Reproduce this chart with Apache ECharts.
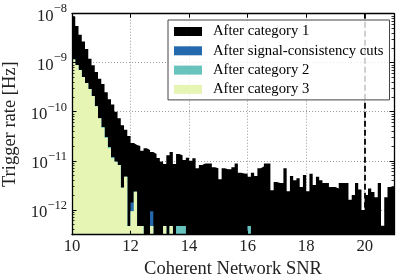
<!DOCTYPE html>
<html><head><meta charset="utf-8">
<script src="https://cdn.jsdelivr.net/npm/echarts@6/dist/echarts.min.js"></script>
<style>html,body{margin:0;padding:0;background:#fff}#c{width:415px;height:277px}</style>
</head><body><div id="c"></div>
<script>
// Histogram bins: 99 bins of width 1/9 from SNR 10 to 21
const binStart = 10, binWidth = 1 / 9, xMax = 21;
const xTicks = [10, 12, 14, 16, 18, 20];
const legendNames = ['After category 1', 'After signal-consistency cuts', 'After category 2', 'After category 3'];
const vetoThreshold = 20;

const cat1Rate = [
 8.8e-9, 5.6e-9, 3.7e-9, 2.7e-9, 1.9e-9, 1.2e-9, 8.9e-10, 6.5e-10, 4.7e-10, 3.7e-10,
 2.5e-10, 1.8e-10, 1.4e-10, 1.0e-10, 7.4e-11, 5.3e-11, 4.3e-11, 3.2e-11, 2.3e-11, 2.1e-11,
 2.0e-11, 1.6e-11, 1.8e-11, 1.65e-11, 1.5e-11, 1.37e-11, 1.14e-11, 9.6e-12, 8.6e-12, 1.3e-11,
 1.5e-11, 8.6e-12, 1.37e-11, 1.3e-11, 1.03e-11, 1.15e-11, 1.0e-11, 1.12e-11, 7.0e-12, 8.2e-12,
 8.8e-12, 8.8e-12, 8.8e-12, 7.4e-12, 7.0e-12, 4.2e-12, 7.0e-12, 6.7e-12, 6.7e-12, 7.4e-12,
 8.8e-12, 5.7e-12, 5.5e-12, 5.4e-12, 4.7e-12, 5.7e-12, 4.9e-12, 7.0e-12, 7.6e-12, 8.8e-12,
 8.8e-12, 2.5e-12, 3.7e-12, 3.5e-12, 3.5e-12, 7.0e-12, 2.4e-12, 4.9e-12, 4.0e-12, 4.4e-12,
 2.9e-12, 5.1e-12, 2.4e-12, 5.4e-12, 3.2e-12, 4.7e-12, 4.0e-12, 3.5e-12, 3.5e-12, 2.9e-12,
 2.9e-12, 2.7e-12, 3.5e-12, 3.5e-12, 3.5e-12, 1.6e-12, 2.0e-12, 3.5e-12, 2.6e-12, 9.9e-13,
 2.0e-12, 2.7e-12, 2.3e-12, 1.8e-12, 3.5e-12, 4.7e-13, 1.8e-12, 2.9e-12, 2.9e-12
];
const sigRate = [
 1.16e-9, 9.0e-10, 7.1e-10, 5.1e-10, 3.85e-10, 2.9e-10, 2.1e-10, 1.3e-10, 7.4e-11, 4.9e-11,
 3.05e-11, 1.9e-11, 1.18e-11, 9.5e-12, 8.2e-12, 2.8e-12, 4.7e-12, 4.65e-13, 1.4e-12, 2.33e-12,
 4.65e-13, 4.65e-13, 0, 0, 9.3e-13, 0, 0, 0, 4.65e-13, 0,
 4.65e-13, 0, 4.65e-13, 4.65e-13, 4.65e-13, 0, 0, 0, 0, 0,
 0, 0, 0, 0, 0, 0, 0, 0, 0, 0,
 0, 0, 0, 0, 4.65e-13, 0, 0, 0, 0, 0,
 0, 0, 0, 0, 0, 0, 0, 0, 0, 0,
 0, 0, 0, 0, 0, 0, 0, 0, 0, 0,
 0, 0, 0, 0, 0, 0, 0, 0, 0, 0,
 0, 0, 0, 0, 0, 0, 0, 0, 0
];
const cat2Rate = [
 1.16e-9, 9.0e-10, 7.1e-10, 5.1e-10, 3.85e-10, 2.9e-10, 2.1e-10, 1.3e-10, 7.4e-11, 4.9e-11,
 3.05e-11, 1.9e-11, 1.18e-11, 9.5e-12, 8.2e-12, 2.8e-12, 4.7e-12, 4.65e-13, 9.3e-13, 2.33e-12,
 4.65e-13, 4.65e-13, 0, 0, 4.65e-13, 0, 0, 0, 4.65e-13, 0,
 4.65e-13, 0, 4.65e-13, 4.65e-13, 4.65e-13, 0, 0, 0, 0, 0,
 0, 0, 0, 0, 0, 0, 0, 0, 0, 0,
 0, 0, 0, 0, 4.65e-13, 0, 0, 0, 0, 0,
 0, 0, 0, 0, 0, 0, 0, 0, 0, 0,
 0, 0, 0, 0, 0, 0, 0, 0, 0, 0,
 0, 0, 0, 0, 0, 0, 0, 0, 0, 0,
 0, 0, 0, 0, 0, 0, 0, 0, 0
];
const cat3Rate = [
 1.16e-9, 9.0e-10, 7.1e-10, 5.1e-10, 3.85e-10, 2.9e-10, 2.1e-10, 1.3e-10, 7.4e-11, 4.7e-11,
 2.9e-11, 1.8e-11, 1.12e-11, 9.5e-12, 8.2e-12, 2.8e-12, 4.7e-12, 4.65e-13, 9.3e-13, 2.33e-12,
 4.65e-13, 4.65e-13, 0, 0, 4.65e-13, 0, 0, 0, 4.65e-13, 0,
 4.65e-13, 0, 0, 0, 0, 0, 0, 0, 0, 0,
 0, 0, 0, 0, 0, 0, 0, 0, 0, 0,
 0, 0, 0, 0, 0, 0, 0, 0, 0, 0,
 0, 0, 0, 0, 0, 0, 0, 0, 0, 0,
 0, 0, 0, 0, 0, 0, 0, 0, 0, 0,
 0, 0, 0, 0, 0, 0, 0, 0, 0, 0,
 0, 0, 0, 0, 0, 0, 0, 0, 0
];

const colors = ['#000000', '#2468ae', '#68c3bd', '#e6f5b4'];
const FONT = 'Liberation Serif';
const yMin = 3.1e-13, yMax = 1e-8, floorVal = 1e-14;

function stepPoints(arr) {
  const pts = arr.map((v, i) => [binStart + i * binWidth, v > 0 ? v : floorVal]);
  const last = arr[arr.length - 1];
  pts.push([xMax, last > 0 ? last : floorVal]);
  return pts;
}
const minorVals = [];
for (let e = -13; e <= -9; e++) for (let m = 2; m <= 9; m++) {
  const v = m * Math.pow(10, e);
  if (v > yMin && v < yMax) minorVals.push(v);
}

const chart = echarts.init(document.getElementById('c'), null, {renderer: 'canvas'});
const baseX = {type: 'value', min: 10, max: xMax, interval: 2};
const baseY = {type: 'log', min: yMin, max: yMax, logBase: 10};
const gridLine = {show: true, lineStyle: {color: '#9a9a9a', type: [1, 2], width: 1}};

chart.setOption({
  animation: false,
  grid: {left: 72, right: 21, top: 13.7, bottom: 42.3, outerBoundsMode: 'none', containLabel: false},
  legend: {
    data: legendNames, orient: 'vertical', left: 168, top: 20,
    icon: 'rect', itemWidth: 28, itemHeight: 9, itemGap: 4.3,
    padding: [4, 6, 3, 6],
    backgroundColor: 'rgba(255,255,255,0.8)', borderColor: '#444', borderWidth: 1,
    textStyle: {fontFamily: FONT, fontSize: 14.7, color: '#000', lineHeight: 15, padding: [0, 0, 0, 6]},
    z: 10
  },
  xAxis: [
    Object.assign({}, baseX, {
      position: 'bottom', z: 3,
      name: 'Coherent Network SNR', nameLocation: 'middle', nameGap: 20,
      nameTextStyle: {fontFamily: FONT, fontSize: 18.5, color: '#222', verticalAlign: 'top'},
      axisLine: {show: true, onZero: false, lineStyle: {color: '#000', width: 1.3}},
      axisTick: {show: true, inside: true, length: 4, lineStyle: {color: '#000'}},
      axisLabel: {show: true, margin: 3, fontFamily: FONT, fontSize: 16.7, color: '#222',
        showMaxLabel: false, formatter: v => xTicks.indexOf(v) >= 0 ? String(v) : ''},
      splitLine: gridLine
    }),
    Object.assign({}, baseX, {
      position: 'top', z: 3,
      axisLine: {show: true, onZero: false, lineStyle: {color: '#000', width: 1.3}},
      axisTick: {show: true, inside: true, length: 4, lineStyle: {color: '#000'}},
      axisLabel: {show: false}, splitLine: {show: false}
    })
  ],
  yAxis: [
    Object.assign({}, baseY, {
      position: 'left', z: 3,
      name: 'Trigger rate [Hz]', nameLocation: 'middle', nameGap: 50,
      nameTextStyle: {fontFamily: FONT, fontSize: 18.5, color: '#222'},
      axisLine: {show: true, lineStyle: {color: '#000', width: 1.3}},
      axisTick: {show: true, inside: true, length: 4.5, lineStyle: {color: '#000'}},
      axisLabel: {
        show: true, margin: 5, showMinLabel: false,
        formatter: v => {
          const e = Math.round(Math.log10(v));
          return '{b|10}{s|' + (e < 0 ? '\u2212' : '') + Math.abs(e) + '}';
        },
        rich: {
          b: {fontFamily: FONT, fontSize: 16.7, color: '#222', lineHeight: 22, verticalAlign: 'bottom'},
          s: {fontFamily: FONT, fontSize: 12.5, color: '#222', lineHeight: 12, verticalAlign: 'top'}
        }
      },
      splitLine: gridLine
    }),
    Object.assign({}, baseY, {
      position: 'right', z: 3,
      axisLine: {show: true, lineStyle: {color: '#000', width: 1.3}},
      axisTick: {show: true, inside: true, length: 4.5, lineStyle: {color: '#000'}},
      axisLabel: {show: false}, splitLine: {show: false}
    }),
    Object.assign({}, baseY, {
      position: 'left', z: 3,
      axisLine: {show: false},
      axisTick: {show: true, inside: true, length: 2.5, customValues: minorVals, lineStyle: {color: '#000', width: 0.8}},
      axisLabel: {show: false}, splitLine: {show: false}
    }),
    Object.assign({}, baseY, {
      position: 'right', z: 3,
      axisLine: {show: false},
      axisTick: {show: true, inside: true, length: 2.5, customValues: minorVals, lineStyle: {color: '#000', width: 0.8}},
      axisLabel: {show: false}, splitLine: {show: false}
    })
  ],
  series: [cat1Rate, sigRate, cat2Rate, cat3Rate].map((arr, k) => {
    const s = {
      name: legendNames[k], type: 'line', step: 'end', data: stepPoints(arr),
      xAxisIndex: 0, yAxisIndex: 0,
      symbol: 'none', showSymbol: false, clip: true,
      lineStyle: {width: 0, color: colors[k]},
      itemStyle: {color: colors[k]},
      areaStyle: {color: colors[k], opacity: 1, origin: 'start'},
      emphasis: {disabled: true}
    };
    if (k === 3) {
      s.markLine = {
        silent: true, symbol: ['none', 'none'], label: {show: false},
        lineStyle: {color: '#000', type: [6, 3], width: 1.8},
        data: [{xAxis: vetoThreshold}]
      };
    }
    return s;
  })
});
</script>
</body></html>
